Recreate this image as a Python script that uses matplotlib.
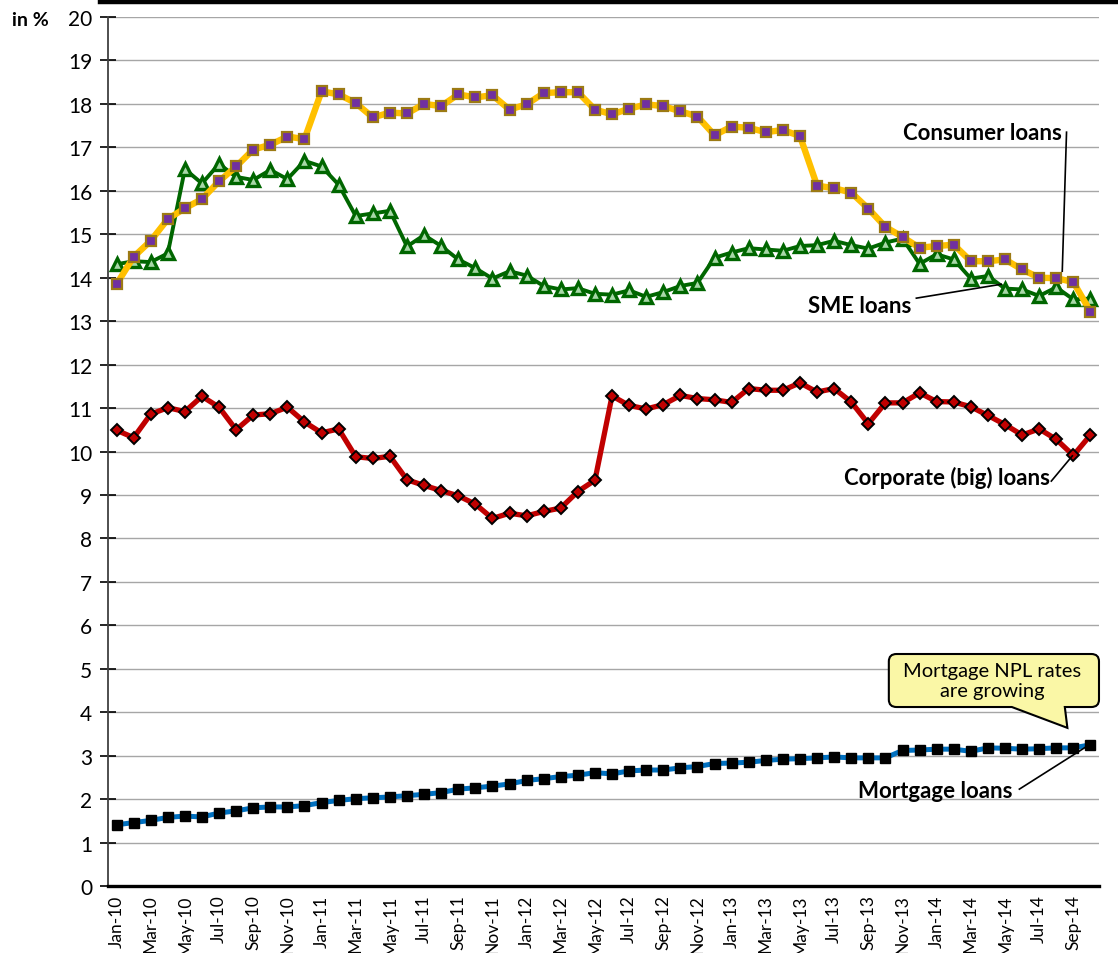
import matplotlib
matplotlib.use("Agg")
import matplotlib.pyplot as plt
from matplotlib.path import Path
from matplotlib.patches import PathPatch
from matplotlib.lines import Line2D

plt.rcParams['font.family'] = ['Lato', 'DejaVu Sans']

# months Jan-10 .. Oct-14
month_names = ["Jan", "Feb", "Mar", "Apr", "May", "Jun",
               "Jul", "Aug", "Sep", "Oct", "Nov", "Dec"]
years = ["10", "11", "12", "13", "14"]
months = [m + "-" + y for y in years for m in month_names][:58]

consumer = [13.85, 14.48, 14.85, 15.35, 15.6, 15.81, 16.22, 16.56, 16.95, 17.06, 17.25, 17.19,
            18.29, 18.22, 18.02, 17.69, 17.8, 17.78, 18.0, 17.95, 18.22, 18.15, 18.2, 17.87,
            17.99, 18.25, 18.27, 18.27, 17.87, 17.76, 17.89, 17.99, 17.95, 17.83, 17.71, 17.28,
            17.48, 17.45, 17.35, 17.4, 17.26, 16.12, 16.06, 15.96, 15.59, 15.17, 14.94, 14.69,
            14.73, 14.76, 14.38, 14.38, 14.42, 14.19, 14.0, 13.99, 13.9, 13.22]

sme = [14.31, 14.38, 14.36, 14.56, 16.5, 16.17, 16.62, 16.32, 16.25, 16.48, 16.27, 16.69,
       16.56, 16.14, 15.42, 15.48, 15.54, 14.72, 14.98, 14.73, 14.42, 14.22, 13.98, 14.15,
       14.05, 13.81, 13.73, 13.76, 13.63, 13.61, 13.71, 13.56, 13.67, 13.81, 13.88, 14.46,
       14.58, 14.68, 14.65, 14.62, 14.73, 14.75, 14.85, 14.75, 14.67, 14.81, 14.9, 14.32,
       14.54, 14.42, 13.98, 14.04, 13.75, 13.73, 13.58, 13.78, 13.5, 13.52]

corporate = [10.49, 10.32, 10.86, 11.01, 10.92, 11.27, 11.02, 10.5, 10.84, 10.87, 11.02, 10.68,
             10.43, 10.52, 9.88, 9.84, 9.89, 9.35, 9.22, 9.1, 8.98, 8.79, 8.46, 8.58,
             8.52, 8.62, 8.7, 9.08, 9.34, 11.28, 11.06, 10.98, 11.08, 11.29, 11.22, 11.19,
             11.13, 11.45, 11.41, 11.41, 11.58, 11.37, 11.45, 11.14, 10.64, 11.12, 11.12, 11.35,
             11.15, 11.14, 11.03, 10.83, 10.62, 10.38, 10.52, 10.28, 9.91, 10.38]

mortgage = [1.41, 1.46, 1.51, 1.58, 1.61, 1.59, 1.68, 1.73, 1.8, 1.82, 1.82, 1.85,
            1.92, 1.97, 2.01, 2.03, 2.05, 2.08, 2.11, 2.15, 2.23, 2.26, 2.3, 2.35,
            2.43, 2.47, 2.52, 2.55, 2.61, 2.58, 2.65, 2.67, 2.67, 2.72, 2.75, 2.82,
            2.83, 2.85, 2.89, 2.92, 2.93, 2.95, 2.97, 2.95, 2.95, 2.95, 3.12, 3.13,
            3.15, 3.15, 3.1, 3.18, 3.17, 3.15, 3.16, 3.18, 3.18, 3.25]

x = list(range(len(months)))

fig = plt.figure(figsize=(11.18, 9.54), dpi=100)
ax = fig.add_axes([0.0966, 0.0702, 0.8864, 0.9109])

ax.plot(x, mortgage, color="#0070C0", lw=3.6, marker="s", ms=6.5,
        mfc="black", mec="black", zorder=3)
ax.plot(x, corporate, color="#C00000", lw=3.8, marker="D", ms=6.5,
        mfc="#C00000", mec="black", mew=1.4, zorder=3)
ax.plot(x, sme, color="#006600", lw=2.8, marker="^", ms=8,
        mfc="#a8d8a8", mec="#006600", mew=2.4, zorder=4)
ax.plot(x, consumer, color="#FFC000", lw=4.6, marker="s", ms=7.5,
        mfc="#7030A0", mec="#9C7A14", mew=1.6, zorder=5)

ax.set_xlim(-0.5, len(months) - 0.5)
ax.set_ylim(0, 20)
ax.set_yticks(range(0, 21))
ax.set_xticks(x[::2])
ax.set_xticklabels(months[::2], rotation=90, fontsize=12.5)
ax.tick_params(axis="x", length=0, pad=6)
ax.tick_params(axis="y", direction="inout", length=11, width=1.2, labelsize=15, pad=6)
ax.grid(axis="y", color="#A6A6A6", lw=1)
ax.set_axisbelow(True)

for s in ["top", "right"]:
    ax.spines[s].set_visible(False)
ax.spines["left"].set_color("#404040")
ax.spines["left"].set_linewidth(1.3)
ax.spines["bottom"].set_linewidth(2.4)

# thick line across the top
fig.add_artist(Line2D([100 / 1118, 1.0], [0.9965, 0.9965], color="black", lw=3.2,
                      transform=fig.transFigure))
fig.text(12 / 1118, 1 - 20 / 954, "in %", fontsize=14, fontweight="bold", va="center")

# series labels with leader lines
labels = [
    ("Consumer loans", 50.67, 17.35, [55.6, 55.35], [17.35, 14.15]),
    ("SME loans", 43.48, 13.35, [46.81, 51.78], [13.53, 13.85]),
    ("Corporate (big) loans", 48.6, 9.41, [54.71, 55.94], [9.32, 9.9]),
    ("Mortgage loans", 47.9, 2.19, [52.84, 56.93], [2.23, 3.25]),
]
for txt, tx, ty, lx, ly in labels:
    ax.text(tx, ty, txt, fontsize=16, fontweight="bold", ha="center", va="center", zorder=6)
    ax.plot(lx, ly, color="black", lw=1.2, zorder=6, clip_on=False)

# callout
L, R, T, B = 45.2, 57.5, 5.34, 4.12
rx, ry = 0.45, 0.17
b1, b2, tip = 52.4, 55.5, (55.65, 3.64)
verts = [(L + rx, T), (R - rx, T), (R, T), (R, T - ry), (R, B + ry), (R, B), (R - rx, B),
         (b2, B), tip, (b1, B), (L + rx, B), (L, B), (L, B + ry), (L, T - ry), (L, T),
         (L + rx, T), (L + rx, T)]
codes = [Path.MOVETO, Path.LINETO, Path.CURVE3, Path.CURVE3, Path.LINETO, Path.CURVE3,
         Path.CURVE3, Path.LINETO, Path.LINETO, Path.LINETO, Path.LINETO, Path.CURVE3,
         Path.CURVE3, Path.LINETO, Path.CURVE3, Path.CURVE3, Path.CLOSEPOLY]
ax.add_patch(PathPatch(Path(verts, codes), facecolor="#FAF7A6", edgecolor="black",
                       lw=1.5, zorder=6, clip_on=False))
ax.text((L + R) / 2 - 0.1, (T + B) / 2, "Mortgage NPL rates\nare growing", fontsize=14.5,
        ha="center", va="center", linespacing=1.25, zorder=7)

fig.savefig("out.png", dpi=100)
